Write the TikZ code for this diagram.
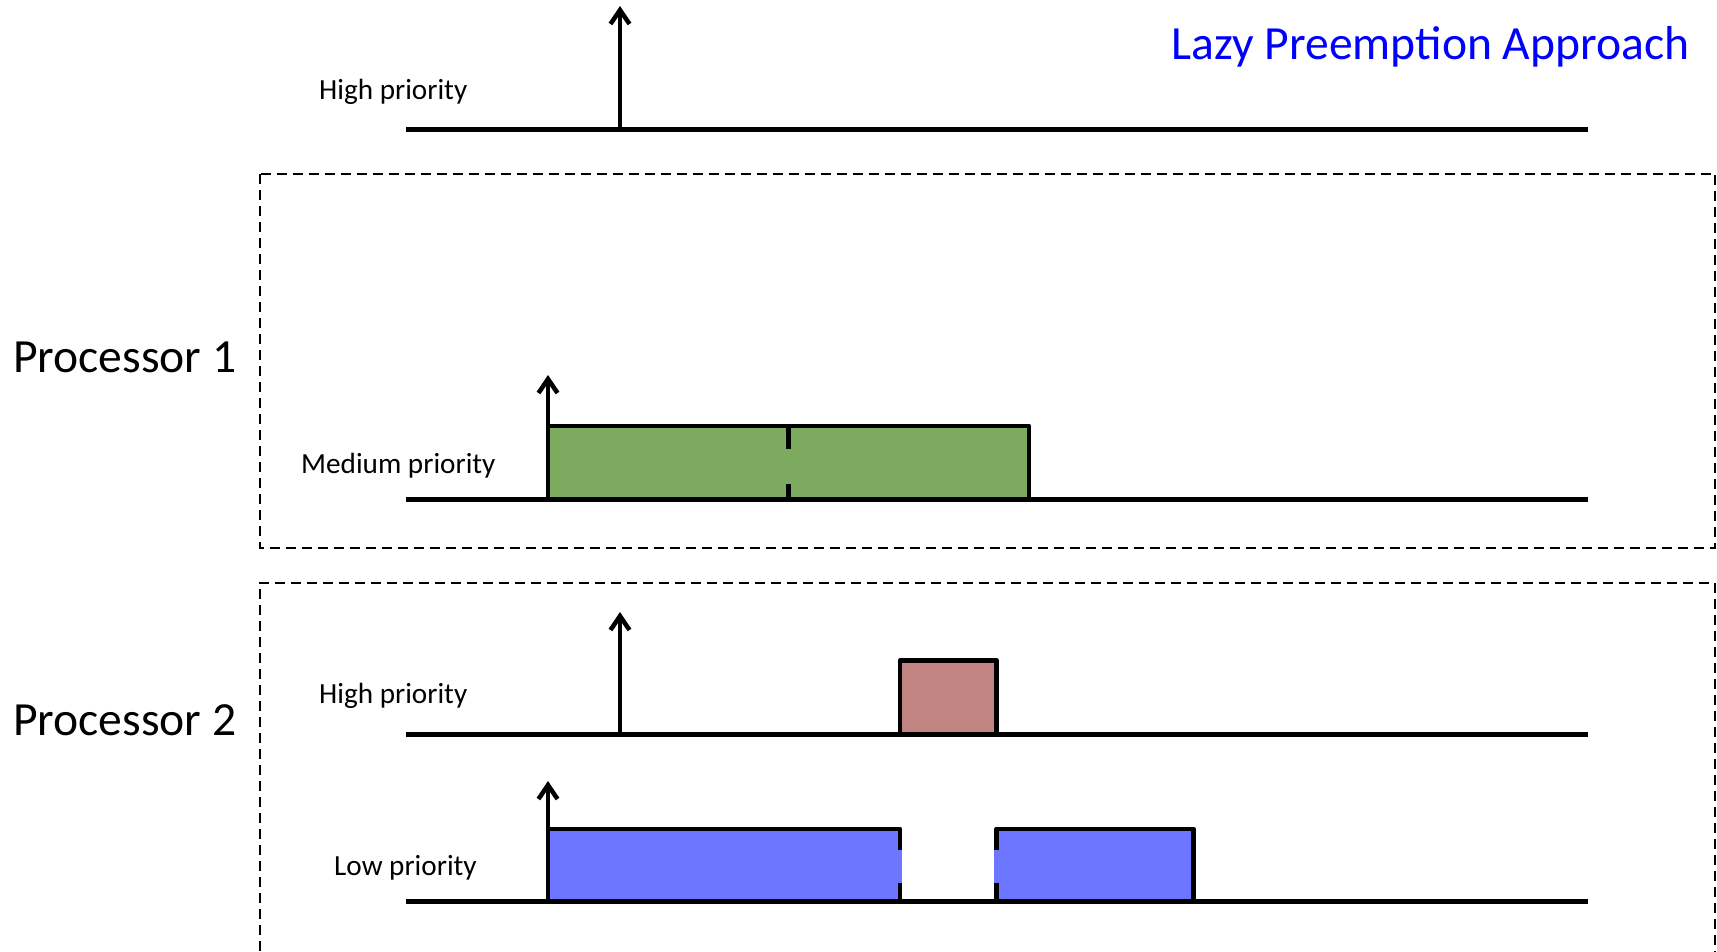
\documentclass[tikz,border=0pt]{standalone}
\usepackage{fontspec}
\setmainfont{Carlito}
\usetikzlibrary{arrows.meta}
\definecolor{medgreen}{RGB}{124,171,95}
\definecolor{hired}{RGB}{193,132,128}
\definecolor{lowblue}{RGB}{108,118,255}
\definecolor{titleblue}{RGB}{0,0,255}
\begin{document}
\begin{tikzpicture}[x=1pt,y=-1pt,
  axis/.style={line width=5pt},
  outline/.style={line width=4.8pt,line join=round},
  release/.style={line width=4.5pt,-{Straight Barb[length=14pt,width=19pt,line width=4.5pt]}},
  procbox/.style={line width=2pt,dash pattern=on 10pt off 6pt},
  lbl/.style={anchor=west,inner sep=0pt,font=\fontsize{29.2}{35}\selectfont},
  big/.style={anchor=west,inner sep=0pt,font=\fontsize{47.6}{56}\selectfont}]
\useasboundingbox (0,0) rectangle (1717,951);
% processor frames
\draw[procbox] (259.5,173.5) rectangle (1715,547.5);
\draw[procbox] (259.5,951) -- (259.5,582.5) -- (1715,582.5) -- (1715,951);
% titles
\node[big,text=titleblue] (title) at (1171,46.5) {Lazy Preemption Approach};
\node[big] (p1) at (13,357) {Processor 1};
\node[big] (p2) at (13,720) {Processor 2};
% labels
\node[lbl] (lhi0) at (319,91.5) {High priority};
\node[lbl] (lmed) at (301,465.5) {Medium priority};
\node[lbl] (lhi2) at (319,695.5) {High priority};
\node[lbl] (llow) at (334,867.5) {Low priority};
% coordinates of axes
\coordinate (a0s) at (406,129.5); \coordinate (a0e) at (1588,129.5);
\coordinate (a1s) at (406,499); \coordinate (a1e) at (1588,499);
\coordinate (a2s) at (406,734); \coordinate (a2e) at (1588,734);
\coordinate (a3s) at (406,901); \coordinate (a3e) at (1588,901);
% medium priority job (green)
\fill[medgreen] (548,426) rectangle (1029,499);
\draw[outline] (548,499) -- (548,426) -- (1029,426) -- (1029,499);
\draw[outline] (788.5,426) -- (788.5,449);
\draw[outline] (788.5,484) -- (788.5,499);
% high priority job on processor 2 (red)
\fill[hired] (900,660.5) rectangle (996.5,734);
\draw[outline] (900,734) -- (900,660.5) -- (996.5,660.5) -- (996.5,734);
% low priority job (blue), split
\fill[lowblue] (548,829) rectangle (902.4,901);
\draw[outline] (548,901) -- (548,829) -- (900,829) -- (900,850);
\draw[outline] (900,883) -- (900,901);
\fill[lowblue] (994.1,829) rectangle (1193.5,901);
\draw[outline] (996.5,850) -- (996.5,829) -- (1193.5,829) -- (1193.5,901);
\draw[outline] (996.5,883) -- (996.5,901);
% axes
\draw[axis] (a0s) -- (a0e);
\draw[axis] (a1s) -- (a1e);
\draw[axis] (a2s) -- (a2e);
\draw[axis] (a3s) -- (a3e);
% release arrows
\coordinate (r0b) at (620,129); \coordinate (r0t) at (620,6);
\coordinate (r1b) at (548,499); \coordinate (r1t) at (548,375);
\coordinate (r2b) at (620,734); \coordinate (r2t) at (620,612);
\coordinate (r3b) at (548,901); \coordinate (r3t) at (548,781);
\draw[release] (r0b) -- (r0t);
\draw[release] (r1b) -- (r1t);
\draw[release] (r2b) -- (r2t);
\draw[release] (r3b) -- (r3t);
\end{tikzpicture}
\end{document}
